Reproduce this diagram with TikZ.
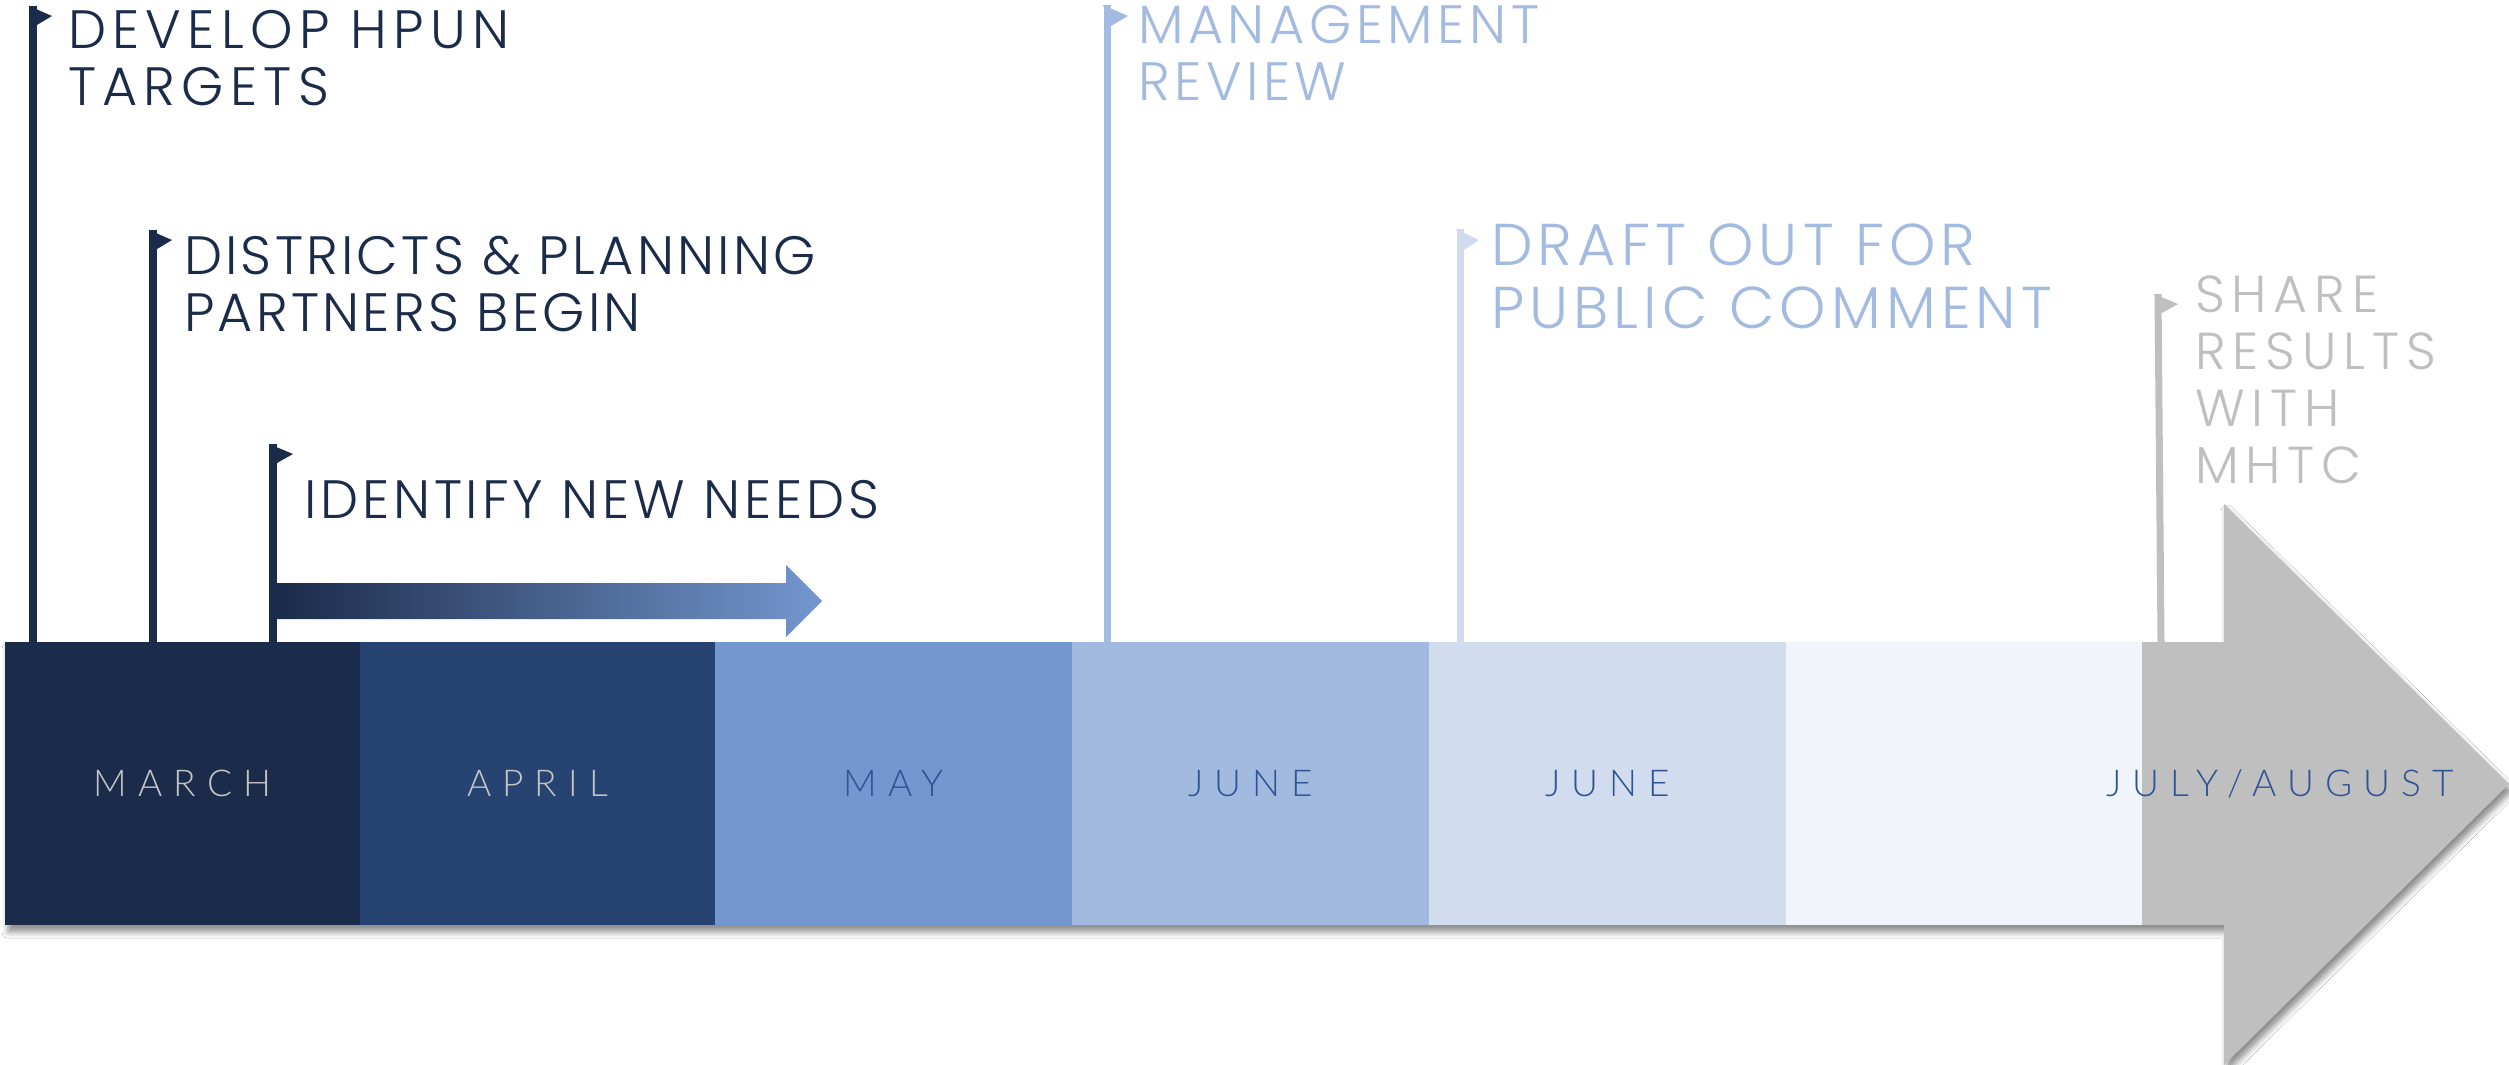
\documentclass[tikz,border=0pt]{standalone}
\usepackage{fontspec}
\setmainfont{Poppins}
\IfFontExistsTF{Poppins Light}{\newfontfamily\labelfont{Poppins Light}}{\newfontfamily\labelfont{Poppins}}
\IfFontExistsTF{Lato Light}{\newfontfamily\monthfont[LetterSpace=30]{Lato Light}}{\newfontfamily\monthfont[LetterSpace=30]{Lato}}
\usetikzlibrary{shadows.blur}
\definecolor{navy}{HTML}{1B2B4A}
\definecolor{cApr}{HTML}{264372}
\definecolor{cMay}{HTML}{7497CF}
\definecolor{cJun}{HTML}{A2BADF}
\definecolor{cJunB}{HTML}{D1DCEE}
\definecolor{cPale}{HTML}{F1F5FB}
\definecolor{cGray}{HTML}{BFBFBF}
\definecolor{mGray}{HTML}{C4C4C4}
\definecolor{mBlue}{HTML}{2F5496}
\definecolor{tBlue}{HTML}{A3BBE0}
\definecolor{pBlue}{HTML}{D0DCEE}
\tikzset{
  seg/.style={anchor=north west, minimum height=283pt, inner sep=0pt, outer sep=0pt,
    font=\monthfont\fontsize{37}{40}\selectfont},
  lbl/.style={anchor=north west, inner sep=0pt, outer sep=0pt, align=left},
  lfont/.style={font=\labelfont\fontsize{54}{57.5}\selectfont\addfontfeatures{LetterSpace=#1}},
  pole/.style={line width=8pt},
}
\begin{document}
\begin{tikzpicture}[x=1pt,y=-1pt]
\useasboundingbox (0,0) rectangle (2509,1065);
\fill[white] (0,0) rectangle (2509,1065);
% big timeline arrow
\path[fill=cGray, blur shadow={shadow xshift=3pt, shadow yshift=-7pt, shadow blur radius=6pt, shadow opacity=45}]
  (5,642) -- (2224,642) -- (2224,504) -- (2509,784) -- (2224,1065) -- (2224,925) -- (5,925) -- cycle;
% month segments
\node[seg, fill=navy, text=mGray, minimum width=355pt] (march) at (5,642) {MARCH};
\node[seg, fill=cApr, text=mGray, minimum width=355pt] (april) at (360,642) {APRIL};
\node[seg, fill=cMay, text=mBlue, minimum width=357pt] (may) at (715,642) {MAY};
\node[seg, fill=cJun, text=mBlue, minimum width=357pt] (junea) at (1072,642) {JUNE};
\node[seg, fill=cJunB, text=mBlue, minimum width=357pt] (juneb) at (1429,642) {JUNE};
\node[seg, fill=cPale, minimum width=356pt] (blank) at (1786,642) {};
\node[font=\monthfont\fontsize{37}{40}\selectfont, text=mBlue, inner sep=0pt] (julaug) at (2280,784) {JULY/AUGUST};
% gradient arrow
\shade[left color=navy, right color=cMay]
  (276,583) -- (786,583) -- (786,565) -- (822,601) -- (786,637) -- (786,619) -- (276,619) -- cycle;
% flags
\coordinate (t1) at (33,6);
\coordinate (b1) at (33,642);
\draw[pole, navy] (b1) -- (t1);
\fill[navy] (29,6) -- (52,16) -- (37,25) -- cycle;
\node[lbl, lfont=11.7, text=navy] (l1) at (68,10) {DEVELOP HPUN\\TARGETS};

\coordinate (t2) at (153,230);
\coordinate (b2) at (153,642);
\draw[pole, navy] (b2) -- (t2);
\fill[navy] (149,230) -- (172,240) -- (157,249) -- cycle;
\node[lbl, lfont=6, text=navy] (l2) at (184,236) {DISTRICTS \& PLANNING\\PARTNERS BEGIN};

\coordinate (t3) at (273,444);
\coordinate (b3) at (273,642);
\draw[pole, navy] (b3) -- (t3);
\fill[navy] (269,444) -- (293,454) -- (277,463) -- cycle;
\node[lbl, lfont=7.1, text=navy] (l3) at (304,480) {IDENTIFY NEW NEEDS};

\coordinate (t4) at (1107,5);
\coordinate (b4) at (1107,642);
\draw[pole, line width=7pt, tBlue] (b4) -- (t4);
\fill[tBlue] (1103,5) -- (1128,16) -- (1111,26) -- cycle;
\node[lbl, lfont=8.5, text=tBlue] (l4) at (1138,5) {MANAGEMENT\\REVIEW};

\coordinate (t5) at (1460,229);
\coordinate (b5) at (1460,642);
\draw[pole, line width=7pt, pBlue] (b5) -- (t5);
\fill[pBlue] (1456,229) -- (1479,240) -- (1464,250) -- cycle;
\node[lbl, text=tBlue, font=\labelfont\fontsize{59}{63}\selectfont\addfontfeatures{LetterSpace=8.7}] (l5) at (1491,224) {DRAFT OUT FOR\\PUBLIC COMMENT};

\coordinate (t6) at (2158,294);
\coordinate (b6) at (2161,642);
\draw[pole, line width=7pt, cGray] (b6) -- (t6);
\fill[cGray] (2154,294) -- (2178,304) -- (2162,313) -- cycle;
\node[lbl, text=cGray, font=\labelfont\fontsize{52}{57}\selectfont\addfontfeatures{LetterSpace=13.3}] (l6) at (2195,276) {SHARE\\RESULTS\\WITH\\MHTC};
\end{tikzpicture}
\end{document}
